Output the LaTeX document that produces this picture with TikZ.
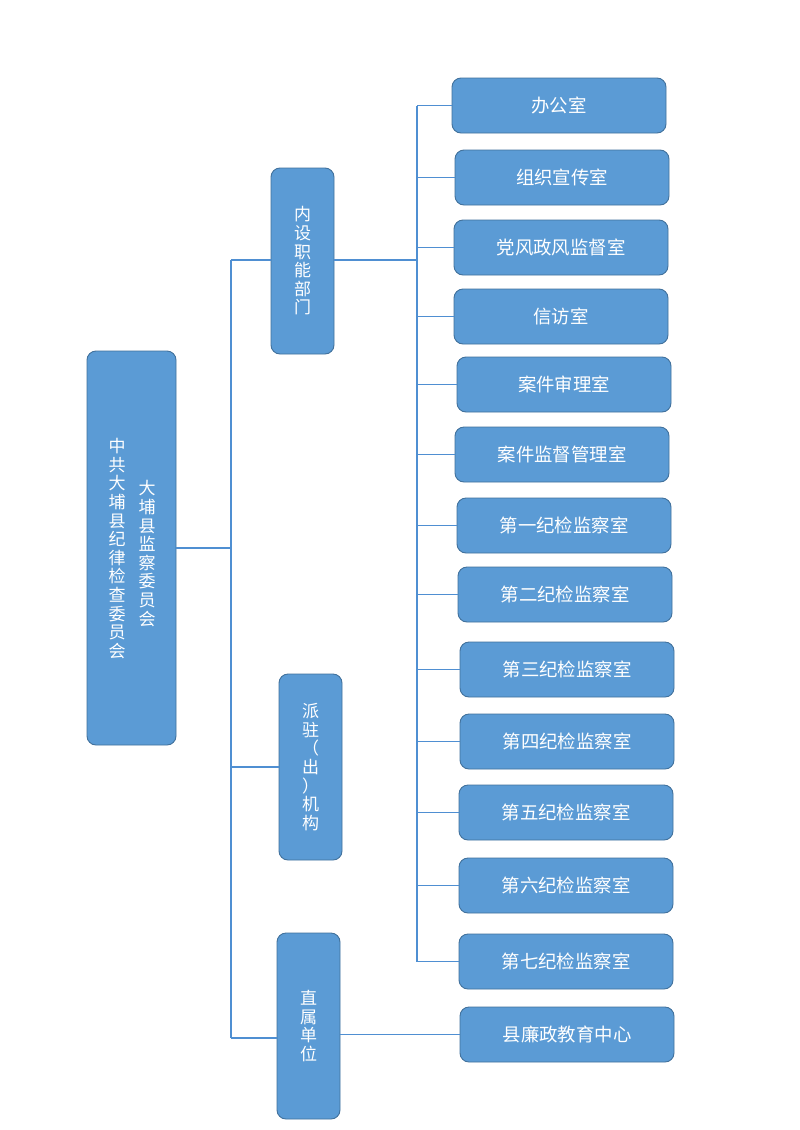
\documentclass[tikz,border=0pt]{standalone}
\usepackage{fontspec}
\newfontfamily\cjk{Noto Sans CJK SC}
\definecolor{boxfill}{HTML}{5B9BD5}
\definecolor{bdr}{HTML}{41719C}
\definecolor{wire}{HTML}{4F8FD2}
\tikzset{
  box/.style={draw=bdr, fill=boxfill, rounded corners=9pt, line width=0.9pt, inner sep=0pt},
  txt/.style={text=white, font=\cjk\fontsize{17}{18.6}\selectfont, inner sep=0pt, align=center},
  rbox/.style={box, txt, font=\cjk\fontsize{18.4}{20}\selectfont, minimum width=214pt, minimum height=55pt},
  vbox/.style={box, txt, minimum width=63pt, minimum height=186pt},
  wirel/.style={draw=wire, line width=1.4pt}
}
\begin{document}
\begin{tikzpicture}[x=1pt,y=-1pt]
\useasboundingbox[fill=white] (0,0) rectangle (800,1130);
% main box
\node[box, minimum width=89pt, minimum height=394pt] (main) at (131.5,548) {};
\node[txt] (mainA) at (117,548.5) {中\\共\\大\\埔\\县\\纪\\律\\检\\查\\委\\员\\会};
\node[txt] (mainB) at (147,553.5) {大\\埔\\县\\监\\察\\委\\员\\会};
% middle boxes
\node[vbox] (nei) at (302.5,261) {内\\设\\职\\能\\部\\门};
\node[vbox] (pai) at (310.5,767) {派\\驻\\（\\出\\）\\机\\构};
\node[vbox] (zhi) at (308.5,1026) {直\\属\\单\\位};
% right boxes
\node[rbox] (r1) at (559,105.5) {办公室};
\node[rbox] (r2) at (562,177.5) {组织宣传室};
\node[rbox] (r3) at (561,247.5) {党风政风监督室};
\node[rbox] (r4) at (561,316.5) {信访室};
\node[rbox] (r5) at (564,384.5) {案件审理室};
\node[rbox] (r6) at (562,454.5) {案件监督管理室};
\node[rbox] (r7) at (564,525.5) {第一纪检监察室};
\node[rbox] (r8) at (565,594.5) {第二纪检监察室};
\node[rbox] (r9) at (567,669.5) {第三纪检监察室};
\node[rbox] (r10) at (567,741.5) {第四纪检监察室};
\node[rbox] (r11) at (566,812.5) {第五纪检监察室};
\node[rbox] (r12) at (566,885.5) {第六纪检监察室};
\node[rbox] (r13) at (566,961.5) {第七纪检监察室};
\node[rbox] (lian) at (567,1034.5) {县廉政教育中心};
% first trunk
\coordinate (t1) at (231,260);
\coordinate (t3) at (231,1038);
\draw[wirel] (t1) -- (t3);
\draw[wirel] (main.east) -- (main.east -| t1);
\draw[wirel] (t1) -- (t1 -| nei.west);
\draw[wirel] (pai.west -| t1) -- (pai.west);
\draw[wirel] (t3) -- (t3 -| zhi.west);
\draw[wirel] (zhi.east |- lian.west) -- (lian.west);
% second trunk
\coordinate (u1) at (417,105.5);
\coordinate (u2) at (417,961.5);
\draw[wirel] (u1) -- (u2);
\draw[wirel] (nei.east |- t1) -- (t1 -| u1);
\foreach \r in {r1,r2,r3,r4,r5,r6,r7,r8,r9,r10,r11,r12,r13}{
  \draw[wirel] (\r.west -| u1) -- (\r.west);
}
\end{tikzpicture}
\end{document}
